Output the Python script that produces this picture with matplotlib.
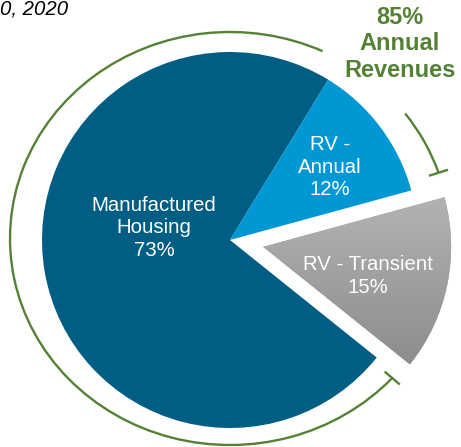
import numpy as np
import matplotlib.pyplot as plt
from matplotlib.patches import Arc
from matplotlib.colors import LinearSegmentedColormap

plt.rcParams['font.family'] = ['Liberation Sans', 'DejaVu Sans']

# revenue mix
segments = ["Manufactured\nHousing", "RV - Transient", "RV -\nAnnual"]
shares = [73, 15, 12]
slice_colors = ["#005e85", "#a6a6a6", "#0097d5"]
explode = [0, 0.18, 0]
annual_share = shares[0] + shares[2]
title_text = "0, 2020"
green = "#548235"

fig = plt.figure(figsize=(4.61, 4.47), dpi=100)
ax = fig.add_axes([0, 0, 1, 1])

wedges, _ = ax.pie(shares, startangle=58.5, counterclock=True, explode=explode,
                   colors=slice_colors, wedgeprops=dict(linewidth=0))

# grey gradient on the transient slice
grey_cmap = LinearSegmentedColormap.from_list("greys", ["#8a8a8a", "#b5b5b5"])
grad = np.linspace(0, 1, 256).reshape(-1, 1)
img = ax.imshow(grad, extent=[0.1, 1.25, -0.72, 0.28], origin="lower", cmap=grey_cmap,
                aspect="auto", zorder=2)
img.set_clip_path(wedges[1])

# slice labels
label_pos = [(-0.404, 0.064), (0.734, -0.191), (0.532, 0.388)]
for seg, share, (x, y) in zip(segments, shares, label_pos):
    ax.text(x, y, f"{seg}\n{share}%", ha="center", va="center", color="white",
            fontsize=14.7, linespacing=1.25, zorder=5)

# green bracket arc around the annual revenue slices
cx, cy = 0.0, 0.008
a, b = 220 / 188, 206.5 / 188
lw = 1.7
ax.add_patch(Arc((cx, cy), 2 * a, 2 * b, theta1=63.7, theta2=319.3, color=green, lw=lw, zorder=4))
ax.add_patch(Arc((cx, cy), 2 * a, 2 * b, theta1=17.5, theta2=35.5, color=green, lw=lw, zorder=4))
for th in [17.5, 319.3]:
    t = np.radians(th)
    r = 1 / np.sqrt((np.cos(t) / a) ** 2 + (np.sin(t) / b) ** 2)
    rr = np.array([r - 0.053, r + 0.053])
    ax.plot(cx + rr * np.cos(t), cy + rr * np.sin(t), color=green, lw=lw, zorder=4,
            solid_capstyle="butt")

ax.text(0.904, 1.043, f"{annual_share}%\nAnnual\nRevenues", ha="center", va="center",
        color=green, fontsize=17, fontweight="bold", linespacing=1.2)

ax.text(-1.223, 1.199, title_text, ha="left", va="baseline", fontsize=14.7,
        style="italic", color="black")

ax.set_xlim(-230 / 188, 231 / 188)
ax.set_ylim(-207 / 188, 240 / 188)
ax.set_aspect("auto")
ax.axis("off")

fig.savefig("out.png", dpi=100)
